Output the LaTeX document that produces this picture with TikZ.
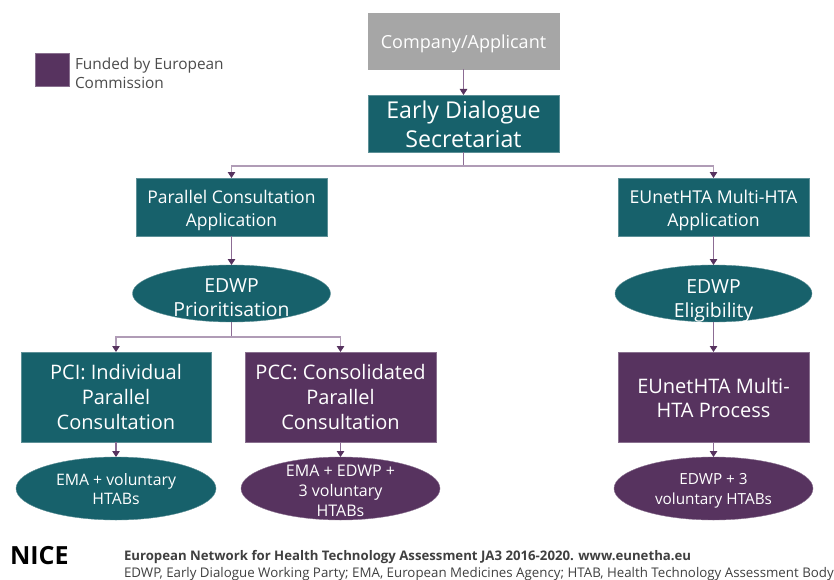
\documentclass[tikz,border=0pt]{standalone}
\usepackage{fontspec}
\setmainfont{Open Sans}
\usetikzlibrary{shapes.geometric,arrows.meta}
\definecolor{tealc}{HTML}{17616B}
\definecolor{purp}{HTML}{57335F}
\definecolor{greyc}{HTML}{A6A6A6}
\definecolor{conn}{HTML}{8C6C94}
\definecolor{connl}{HTML}{B09CB6}
\tikzset{
  txt/.style 2 args={font=\fontsize{#1}{#2}\selectfont},
  lab/.style={inner sep=0pt,outer sep=0pt,text=white,align=center},
  base/.style={inner sep=0pt,outer sep=0pt,line width=0.4pt},
  tbox/.style={base,rectangle,fill=tealc,draw=tealc!70!white},
  pbox/.style={base,rectangle,fill=purp,draw=purp!70!white},
  gbox/.style={base,rectangle,fill=greyc,draw=greyc},
  tell/.style={base,ellipse,fill=tealc,draw=tealc!70!white},
  pell/.style={base,ellipse,fill=purp,draw=purp!70!white},
  conline/.style={draw=conn,line width=1.1pt,-{Triangle[length=6pt,width=7.5pt,fill=purp,color=purp]}},
  elbow/.style={draw=connl,line width=1.1pt,-{Triangle[length=6pt,width=7.5pt,fill=purp,color=purp]}},
  plainline/.style={draw=conn,line width=1.1pt},
  sz/.style 2 args={minimum width=#1pt,minimum height=#2pt},
  plain/.style={inner sep=0pt,outer sep=0pt,anchor=west,text=black}
}
\begin{document}
\begin{tikzpicture}[x=1pt,y=-1pt]
\useasboundingbox (0,0) rectangle (834,580);
\fill[white] (0,0) rectangle (834,580);
% Legend
\node[pbox,sz={34}{33}] (leg) at (52,69.5) {};
\node[plain,align=left,text=black!70,txt={15.4}{19.5}] (legt) at (75,73) {Funded by European\\Commission};
% Boxes
\node[gbox,sz={191}{56},label={[lab,txt={18}{22},yshift=-3pt]center:{Company/Applicant}}] (comp) at (463.5,41) {};
\node[tbox,sz={191}{57},label={[lab,txt={23.2}{29},yshift=-1pt]center:{Early Dialogue\\Secretariat}}] (early) at (463.5,123.5) {};
\node[tbox,sz={191}{58},label={[lab,txt={17.5}{23},yshift=-3pt]center:{Parallel Consultation\\Application}}] (pca) at (231.5,207) {};
\node[tbox,sz={191}{58},label={[lab,txt={17.7}{23},yshift=-3pt]center:{EUnetHTA Multi-HTA\\Application}}] (mha) at (713.5,207) {};
\node[tell,sz={198}{57},label={[lab,txt={19.4}{24},yshift=-4.5pt]center:{EDWP\\Prioritisation}}] (prio) at (231.5,293.5) {};
\node[tell,sz={197}{57},label={[lab,txt={19.4}{24},yshift=-7pt]center:{EDWP\\Eligibility}}] (elig) at (713.5,293.5) {};
\node[tbox,sz={190}{90},label={[lab,txt={20}{25}]center:{PCI: Individual\\Parallel\\Consultation}}] (pci) at (116,397) {};
\node[pbox,sz={191}{90},label={[lab,txt={20}{25}]center:{PCC: Consolidated\\Parallel\\Consultation}}] (pcc) at (340.5,397) {};
\node[pbox,sz={191}{90},label={[lab,txt={20}{24},yshift=-1pt]center:{EUnetHTA Multi-\\HTA Process}}] (proc) at (713.5,397) {};
\node[tell,sz={200}{63},label={[lab,txt={15.8}{19},yshift=-1pt]center:{EMA + voluntary\\HTABs}}] (e1) at (116,488.5) {};
\node[pell,sz={199}{63},label={[lab,txt={16}{20},yshift=-2pt]center:{EMA + EDWP +\\3 voluntary\\HTABs}}] (e2) at (340.5,488.5) {};
\node[pell,sz={199}{63},label={[lab,txt={15.3}{20},yshift=-2pt]center:{EDWP + 3\\voluntary HTABs}}] (e3) at (713.5,488.5) {};
% Connectors
\draw[conline] (comp.south) -- (early.north);
\draw[plainline] (early.south) -- ++(0,14) coordinate (j1);
\draw[elbow] (j1) -| (pca.north);
\draw[elbow] (j1) -| (mha.north);
\draw[conline] (pca.south) -- (prio.north);
\draw[conline] (mha.south) -- (elig.north);
\draw[conline] (elig.south) -- (proc.north);
\draw[plainline] (prio.south) -- ++(0,15) coordinate (j2);
\draw[elbow] (j2) -| (pci.north);
\draw[elbow] (j2) -| (pcc.north);
\draw[conline] (pci.south) -- (e1.north);
\draw[conline] (pcc.south) -- (e2.north);
\draw[conline] (proc.south) -- (e3.north);
% Footer
\node[plain,font=\bfseries\fontsize{25}{25}\selectfont] (nice) at (10,556) {NICE};
\node[plain,font=\bfseries\fontsize{13.2}{16}\selectfont,text=black!75] (f1) at (124,557.5) {European Network for Health Technology Assessment JA3 2016-2020. www.eunetha.eu};
\node[plain,font=\fontsize{13.3}{16}\selectfont,text=black!75] (f2) at (124,574) {EDWP, Early Dialogue Working Party; EMA, European Medicines Agency; HTAB, Health Technology Assessment  Body};
\end{tikzpicture}
\end{document}
